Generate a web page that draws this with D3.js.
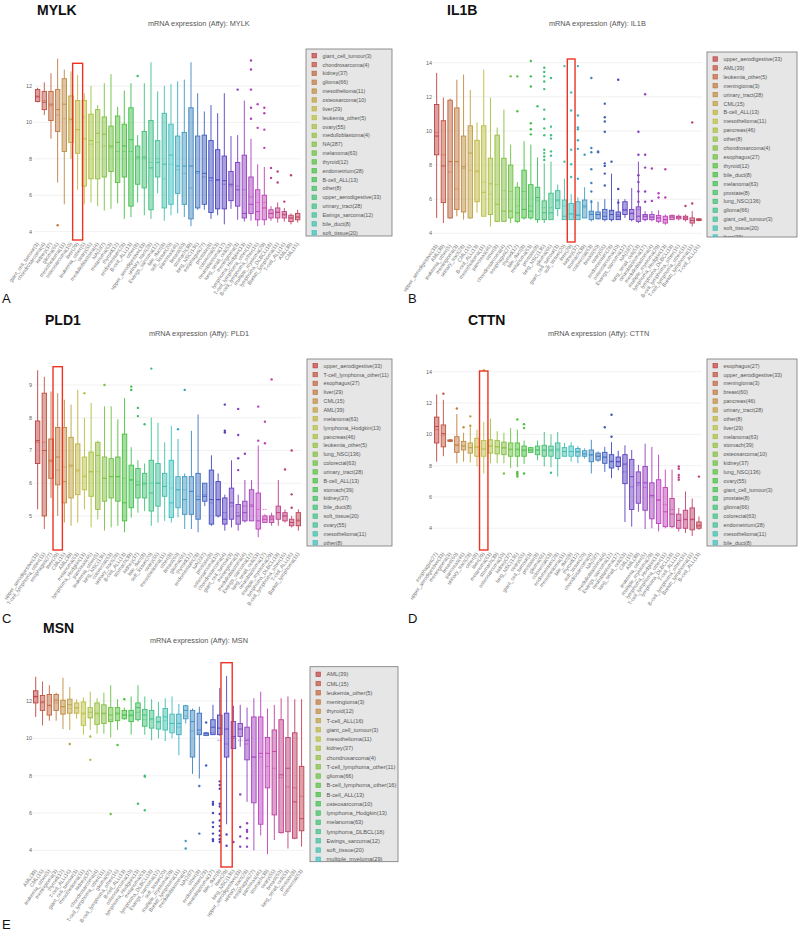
<!DOCTYPE html>
<html><head><meta charset="utf-8">
<script src="https://cdn.jsdelivr.net/npm/d3@7"></script>
<style>body{margin:0;background:#fff} svg{display:block}</style>
</head><body>
<svg id="fig" width="800" height="937"></svg>
<script>
// ---------------- DATA ----------------
// rows: [lowWhisker, q1, median, q3, highWhisker, mean]
const mylkCategories = ["giant_cell_tumour(3)","chondrosarcoma(4)","kidney(37)","glioma(66)","mesothelioma(11)","osteosarcoma(10)","liver(29)","leukemia_other(5)","ovary(55)","medulloblastoma(4)","NA(287)","melanoma(63)","thyroid(12)","endometrium(28)","B-cell_ALL(13)","other(8)","upper_aerodigestive(33)","urinary_tract(28)","Ewings_sarcoma(12)","bile_duct(8)","soft_tissue(20)","pancreas(46)","breast(60)","stomach(39)","lung_NSC(136)","esophagus(27)","prostate(8)","colorectal(63)","neuroblastoma(17)","lung_small_cell(53)","meningioma(3)","lymphoma_Hodgkin(13)","T-cell_lymphoma_other(11)","B-cell_lymphoma_other(16)","multiple_myeloma(29)","lymphoma_DLBCL(18)","Burkitt_lymphoma(11)","T-cell_ALL(16)","AML(39)","CML(15)"];
const mylkStats = [[11.1,11.15,11.4,11.8,11.9,11.45],[10.4,10.7,11.1,11.7,12.2,11.2],[9.1,10.1,11.0,11.7,12.7,10.9],[6.7,9.5,10.7,11.8,13.5,10.4],[5.5,8.4,11.0,12.4,12.9,10.2],[8.0,8.9,10.15,11.45,12.8,10.2],[6.3,8.3,9.6,11.2,12.6,9.6],[5.5,6.5,9.1,11.2,11.6,10.3],[5.6,6.9,9.0,10.45,12.0,8.8],[5.4,6.9,9.4,10.7,10.95,8.9],[5.15,7.0,9.35,10.3,12.15,8.7],[5.25,7.3,8.7,9.8,12.65,8.6],[5.55,6.7,8.9,10.35,10.85,8.4],[4.7,7.0,8.7,9.9,11.75,8.4],[4.8,5.4,9.05,10.8,12.15,8.4],[5.6,6.6,8.1,8.7,9.3,8.0],[4.9,6.4,8.1,9.5,12.15,8.0],[4.7,5.2,7.5,10.1,13.3,7.8],[6.1,7.0,7.8,9.0,11.7,8.0],[4.6,5.3,7.7,10.5,12.0,6.9],[4.9,5.5,8.2,9.9,12.1,7.7],[5.0,6.1,7.6,9.25,12.25,7.4],[4.8,5.5,7.6,9.45,12.35,7.2],[4.3,4.7,7.6,10.8,13.3,6.4],[5.2,5.3,7.3,9.25,11.6,7.2],[5.2,5.5,7.2,9.3,10.6,7.0],[4.7,5.05,6.95,9.0,10.95,6.8],[4.9,5.25,6.85,8.5,10.5,6.8],[4.4,5.25,6.8,8.15,11.6,6.6],[5.25,5.7,6.6,7.3,9.25,6.5],[4.65,5.4,6.3,7.8,9.3,6.5],[4.55,4.75,5.0,8.2,11.2,6.3],[4.6,5.0,5.5,7.0,9.1,5.9],[4.3,4.65,5.1,6.3,7.7,5.6],[4.35,4.65,5.3,6.0,7.55,5.6],[4.6,4.75,5.0,5.2,5.4,5.0],[4.5,4.75,5.05,5.3,5.6,5.1],[4.55,4.75,4.95,5.1,5.3,4.9],[4.4,4.55,4.75,4.9,5.0,4.75],[4.5,4.65,4.8,5.0,5.2,4.8]];
const mylkOutliers = [[3,4.35],[15,12.55],[30,11.8],[32,13.4],[32,12.9],[32,11.8],[32,10.8],[32,10.2],[33,11.0],[33,9.7],[34,10.8],[34,10.5],[34,9.6],[34,8.6],[35,7.5],[35,6.95],[36,7.3],[36,6.7],[37,5.65],[38,7.1]];
const mylkTicks = [4,6,8,10,12];

const il1bCategories = ["upper_aerodigestive(33)","AML(39)","leukemia_other(5)","meningioma(3)","urinary_tract(28)","CML(15)","B-cell_ALL(13)","mesothelioma(11)","pancreas(46)","other(8)","chondrosarcoma(4)","esophagus(27)","thyroid(12)","bile_duct(8)","melanoma(63)","prostate(8)","lung_NSC(136)","glioma(66)","giant_cell_tumour(3)","soft_tissue(20)","liver(29)","kidney(37)","stomach(39)","colorectal(63)","breast(60)","ovary(55)","endometrium(28)","osteosarcoma(10)","Ewings_sarcoma(12)","NA(287)","lung_small_cell(53)","neuroblastoma(17)","medulloblastoma(4)","multiple_myeloma(29)","lymphoma_Hodgkin(13)","lymphoma_DLBCL(18)","B-cell_lymphoma_other(16)","T-cell_lymphoma_other(11)","Burkitt_lymphoma(11)","T-cell_ALL(16)"];
const il1bStats = [[4.9,8.6,9.7,11.55,13.4,9.9],[4.6,5.8,7.95,10.6,11.95,8.6],[4.85,4.9,8.2,11.8,11.9,7.6],[5.0,5.4,8.2,11.35,13.0,6.6],[4.8,5.25,7.9,9.7,13.3,7.8],[4.85,4.9,8.7,10.3,12.4,7.7],[5.2,5.85,7.65,9.45,10.5,7.6],[5.0,5.0,6.4,10.3,13.6,7.0],[4.4,5.1,6.9,8.4,11.95,6.3],[4.65,4.7,5.7,9.75,10.2,6.85],[4.7,4.7,5.3,8.4,11.25,6.5],[4.6,4.9,5.3,8.0,9.2,6.45],[4.6,4.7,5.2,6.7,7.0,5.6],[4.8,4.9,5.4,7.7,9.4,6.45],[4.8,4.9,5.3,6.85,9.2,5.6],[4.6,4.8,6.1,6.7,8.45,5.9],[4.6,4.8,5.2,5.9,8.1,5.5],[4.8,4.8,5.2,6.35,8.2,5.5],[5.0,5.45,5.95,6.5,6.85,5.9],[4.8,4.8,5.0,5.95,7.2,5.6],[4.8,4.8,5.15,5.75,6.3,5.1],[4.8,4.8,5.05,5.85,6.1,5.1],[4.9,4.9,5.6,5.95,6.7,5.5],[4.7,4.8,5.1,5.3,5.95,5.2],[4.8,4.85,5.1,5.25,5.85,5.1],[4.7,4.8,5.0,5.4,6.0,5.2],[4.7,4.8,5.1,5.35,7.5,5.3],[4.8,4.8,5.0,5.25,6.0,5.1],[4.9,5.1,5.35,5.85,6.0,5.4],[4.7,4.8,5.15,5.4,6.65,5.2],[4.6,4.7,5.0,5.55,8.2,5.4],[4.7,4.8,5.0,5.1,5.3,5.0],[4.7,4.8,4.95,5.1,5.3,4.95],[4.6,4.7,4.9,5.05,5.35,4.9],[4.5,4.6,4.8,5.0,5.1,4.8],[4.8,4.8,4.95,5.05,5.1,4.95],[4.75,4.85,4.95,5.0,5.1,4.95],[4.7,4.8,4.9,5.0,5.1,4.9],[4.4,4.6,4.75,4.9,5.3,4.75],[4.7,4.75,4.8,4.85,4.9,4.8]];
const il1bOutliers = [[11,13.2],[12,13.2],[12,11.15],[14,14.1],[14,13.2],[14,12.6],[14,10.45],[14,10.1],[14,9.8],[15,11.45],[16,13.7],[16,13.45],[16,13.2],[16,12.9],[16,12.45],[16,11.25],[16,10.7],[16,10.15],[16,9.75],[16,8.9],[16,8.7],[16,8.5],[16,8.3],[17,13.1],[17,10.25],[17,9.75],[17,9.55],[17,8.8],[17,8.55],[19,13.8],[19,8.2],[20,12.25],[20,11.2],[20,8.9],[20,8.05],[20,7.3],[21,13.8],[21,10.9],[21,10.2],[21,10.1],[21,9.45],[21,8.95],[21,7.2],[22,8.6],[23,13.1],[23,9.0],[23,8.75],[23,7.75],[23,6.95],[23,6.45],[23,5.85],[24,8.8],[24,8.75],[25,11.6],[25,10.8],[25,10.55],[25,9.95],[25,8.1],[25,7.95],[25,7.5],[25,6.8],[26,8.2],[27,13.0],[27,6.6],[27,5.8],[30,9.95],[30,8.6],[30,7.4],[30,7.0],[30,6.45],[30,5.85],[31,12.15],[31,8.6],[31,7.85],[31,6.45],[31,5.85],[32,7.8],[32,5.9],[33,6.35],[33,6.1],[34,7.75],[34,6.1],[37,5.6],[38,10.5],[38,5.75]];
const il1bTicks = [4,6,8,10,12,14];

const pld1Categories = ["upper_aerodigestive(33)","T-cell_lymphoma_other(11)","esophagus(27)","liver(29)","CML(15)","AML(39)","melanoma(63)","lymphoma_Hodgkin(13)","pancreas(46)","leukemia_other(5)","lung_NSC(136)","colorectal(63)","urinary_tract(28)","B-cell_ALL(13)","stomach(39)","kidney(37)","bile_duct(8)","soft_tissue(20)","ovary(55)","mesothelioma(11)","other(8)","breast(60)","glioma(66)","thyroid(12)","endometrium(28)","NA(287)","prostate(8)","osteosarcoma(10)","chondrosarcoma(4)","giant_cell_tumour(3)","meningioma(3)","medulloblastoma(4)","Ewings_sarcoma(12)","lung_small_cell(53)","neuroblastoma(17)","multiple_myeloma(29)","lymphoma_DLBCL(18)","B-cell_lymphoma_other(16)","T-cell_ALL(16)","Burkitt_lymphoma(11)"];
const pld1Stats = [[5.2,6.6,7.3,7.9,9.45,7.25],[4.6,5.0,7.0,8.75,9.25,7.25],[5.55,6.15,6.7,7.35,8.8,6.65],[5.0,5.95,6.8,7.7,8.75,6.4],[4.8,5.4,6.05,7.7,8.55,6.5],[4.7,5.55,6.55,7.4,8.4,6.5],[4.8,5.65,6.4,7.2,8.85,6.35],[5.2,5.8,6.2,6.8,8.0,6.25],[4.65,5.6,6.35,6.95,8.45,6.35],[4.9,5.2,6.85,7.25,7.3,6.35],[4.55,5.45,6.15,6.8,8.35,6.15],[4.65,5.55,6.2,6.75,8.35,6.2],[4.7,5.45,6.2,6.8,7.95,6.2],[4.5,4.85,5.4,7.5,8.6,6.15],[4.95,5.25,6.1,6.55,7.1,6.1],[5.1,5.55,5.95,6.45,6.7,6.05],[5.15,5.55,6.0,6.3,6.6,5.95],[4.7,5.15,5.7,6.7,8.0,6.0],[4.8,5.3,6.0,6.6,7.85,6.0],[4.85,5.6,5.9,6.3,7.25,5.9],[4.8,4.95,5.4,6.7,7.75,5.85],[4.95,5.25,5.8,6.2,7.35,5.8],[4.6,5.05,5.5,6.2,6.3,5.8],[4.6,5.05,5.75,6.2,7.6,5.75],[4.5,4.9,5.5,6.3,8.1,5.6],[5.3,5.45,5.6,6.0,6.0,5.65],[4.7,4.75,5.5,6.4,6.85,5.4],[4.95,5.0,5.5,6.05,6.3,5.5],[4.55,4.75,4.9,5.55,5.65,5.1],[4.65,4.9,5.4,5.85,6.7,5.3],[4.55,4.75,5.0,5.35,5.65,5.1],[4.8,4.85,5.1,5.45,6.1,5.3],[4.85,4.85,5.3,5.8,6.1,5.35],[4.35,4.6,4.85,5.7,7.15,5.2],[4.8,4.8,4.9,5.0,5.05,5.2],[4.7,4.8,4.9,5.0,5.1,4.95],[4.7,4.9,5.1,5.3,6.1,5.1],[4.8,4.85,5.0,5.1,5.2,5.0],[4.65,4.7,4.8,4.9,5.0,4.8],[4.55,4.7,4.85,5.1,5.2,4.9]];
const pld1Outliers = [[7,8.75],[10,9.0],[14,8.95],[14,8.85],[15,8.3],[15,8.05],[16,7.8],[17,9.5],[21,7.65],[22,8.85],[28,8.4],[28,7.6],[28,7.55],[30,8.27],[30,7.47],[30,6.76],[30,6.4],[31,6.9],[33,8.34],[33,7.3],[34,7.88],[34,7.22],[35,9.17],[37,6.42],[38,7.0],[38,5.66],[38,5.25]];
const pld1Ticks = [5,6,7,8,9];

const cttnCategories = ["esophagus(27)","upper_aerodigestive(33)","meningioma(3)","breast(60)","pancreas(46)","urinary_tract(28)","other(8)","liver(29)","melanoma(63)","stomach(39)","osteosarcoma(10)","kidney(37)","lung_NSC(136)","ovary(55)","giant_cell_tumour(3)","prostate(8)","glioma(66)","colorectal(63)","endometrium(28)","mesothelioma(11)","bile_duct(8)","thyroid(12)","soft_tissue(20)","chondrosarcoma(4)","NA(287)","medulloblastoma(4)","Ewings_sarcoma(12)","neuroblastoma(17)","lung_small_cell(53)","CML(15)","AML(39)","leukemia_other(5)","multiple_myeloma(29)","lymphoma_Hodgkin(13)","T-cell_lymphoma_other(11)","lymphoma_DLBCL(18)","T-cell_ALL(16)","B-cell_lymphoma_other(16)","Burkitt_lymphoma(11)","B-cell_ALL(13)"];
const cttnStats = [[8.25,9.45,10.5,11.1,12.55,10.3],[8.6,9.2,10.05,10.6,12.2,9.95],[9.5,9.55,9.6,9.65,9.7,9.6],[8.15,8.85,9.3,9.85,11.3,9.35],[8.25,9.0,9.25,9.55,10.1,9.25],[8.2,8.8,9.15,9.45,10.5,9.15],[7.95,8.6,9.2,9.75,10.3,9.15],[7.5,8.6,9.05,9.6,10.8,9.1],[8.15,8.8,9.25,9.65,11.0,9.25],[8.15,8.75,9.2,9.6,10.2,9.2],[8.15,8.7,9.15,9.5,10.1,9.1],[7.85,8.6,9.05,9.45,10.4,9.0],[7.9,8.6,9.05,9.45,10.3,9.0],[8.1,8.6,9.0,9.25,9.6,8.95],[8.8,8.85,9.0,9.15,9.2,9.0],[8.35,8.7,9.0,9.25,9.6,9.0],[7.95,8.6,9.0,9.3,10.15,8.95],[7.9,8.6,9.0,9.25,10.0,8.95],[7.3,8.45,9.05,9.45,10.15,8.95],[8.6,8.6,8.9,9.15,9.45,8.9],[8.25,8.6,8.9,9.25,9.5,8.9],[8.15,8.6,8.9,9.1,9.25,8.85],[8.45,8.6,8.75,8.95,9.1,8.75],[7.5,8.25,8.7,9.0,9.65,8.65],[8.25,8.35,8.6,8.8,8.9,8.6],[7.6,8.15,8.55,8.85,9.2,8.5],[7.2,7.85,8.25,8.7,9.5,8.3],[7.7,7.95,8.25,8.55,8.95,8.25],[4.4,6.85,8.1,8.7,9.3,7.6],[4.1,5.2,7.3,8.4,9.0,6.65],[5.05,5.6,6.9,7.6,8.05,6.75],[3.95,5.15,6.9,7.95,9.4,6.6],[4.0,4.6,6.1,6.9,9.2,6.0],[3.8,4.3,5.8,7.1,8.7,5.8],[4.0,4.1,5.05,6.6,7.75,5.5],[4.0,4.1,4.9,5.9,7.75,5.2],[3.8,4.0,4.5,4.9,5.3,4.5],[3.7,4.0,4.55,5.15,6.35,4.6],[3.5,3.9,4.55,5.3,5.9,4.6],[3.9,4.0,4.15,4.4,4.75,4.2]];
const cttnOutliers = [[1,12.6],[3,11.65],[4,10.45],[5,11.15],[5,10.55],[7,14.1],[10,7.5],[12,10.95],[12,7.6],[12,7.5],[12,7.4],[12,7.3],[13,10.65],[13,10.4],[13,7.5],[17,7.55],[25,10.45],[26,11.25],[26,9.85],[36,7.95],[36,7.8],[36,7.4],[36,7.25],[36,7.1],[39,7.3]];
const cttnTicks = [4,6,8,10,12,14];

const msnCategories = ["AML(39)","CML(15)","leukemia_other(5)","meningioma(3)","thyroid(12)","T-cell_ALL(16)","giant_cell_tumour(3)","mesothelioma(11)","kidney(37)","chondrosarcoma(4)","T-cell_lymphoma_other(11)","glioma(66)","B-cell_lymphoma_other(16)","B-cell_ALL(13)","osteosarcoma(10)","lymphoma_Hodgkin(13)","melanoma(63)","lymphoma_DLBCL(18)","Ewings_sarcoma(12)","soft_tissue(20)","multiple_myeloma(29)","Burkitt_lymphoma(11)","medulloblastoma(4)","NA(287)","other(8)","endometrium(28)","neuroblastoma(17)","bile_duct(8)","liver(29)","lung_NSC(136)","upper_aerodigestive(33)","urinary_tract(28)","esophagus(27)","pancreas(46)","stomach(39)","ovary(55)","breast(60)","lung_small_cell(53)","prostate(8)","colorectal(63)"];
const msnStats = [[11.15,11.9,12.25,12.55,13.3,12.2],[10.7,11.5,11.95,12.3,13.05,11.9],[10.95,11.25,11.75,12.35,12.85,11.8],[10.95,11.5,12.05,12.35,12.45,11.9],[10.5,11.3,11.7,12.05,13.25,11.7],[10.45,11.35,11.8,12.1,12.75,11.6],[11.05,11.35,11.65,11.9,12.1,11.6],[10.2,10.7,11.35,11.95,12.2,11.3],[10.45,11.1,11.4,11.65,12.5,11.1],[10.25,10.75,11.35,11.9,12.15,11.3],[10.25,10.8,11.35,11.8,12.45,11.3],[10.05,10.9,11.25,11.65,12.85,11.0],[10.45,10.95,11.35,11.65,12.1,11.3],[11.0,11.05,11.25,11.5,11.65,11.25],[10.2,10.9,11.25,11.5,12.25,11.2],[10.9,11.0,11.65,11.9,12.85,11.4],[10.2,10.65,11.25,11.55,12.25,11.0],[9.9,10.55,11.05,11.5,12.1,11.0],[10.0,10.5,10.9,11.15,11.95,10.85],[9.85,10.45,11.15,11.6,12.15,10.95],[10.0,10.3,10.8,11.3,12.25,10.8],[9.1,10.2,10.8,11.3,11.85,10.6],[10.8,11.05,11.5,11.75,11.8,11.2],[8.1,9.0,10.9,11.5,11.6,10.4],[7.85,10.2,10.45,11.35,11.7,10.3],[10.15,10.15,10.25,10.3,10.35,10.25],[10.2,10.2,10.6,11.0,11.8,10.3],[10.15,10.2,10.55,11.25,12.7,9.9],[5.4,9.0,10.5,11.35,13.35,9.7],[9.45,9.45,10.1,10.9,11.75,10.0],[9.55,10.1,10.5,10.8,11.8,9.9],[6.6,8.85,9.9,10.6,11.65,9.7],[4.0,6.55,9.0,11.15,12.15,9.0],[4.8,5.4,9.2,11.15,12.5,9.0],[3.8,7.35,9.2,10.05,11.6,8.5],[4.55,5.9,9.3,10.45,11.8,8.4],[4.9,4.95,8.05,11.0,12.15,7.9],[4.1,5.0,8.4,10.05,12.25,7.4],[4.6,4.65,6.6,10.3,12.1,7.35],[4.2,5.05,5.7,8.5,12.1,6.9]];
const msnOutliers = [[5,9.7],[8,10.1],[8,8.85],[11,5.95],[12,9.65],[13,12.1],[15,6.5],[16,8.0],[16,7.95],[16,6.15],[22,4.5],[22,4.1],[24,7.45],[24,4.9],[25,10.85],[25,8.55],[26,6.6],[26,6.5],[26,6.45],[26,6.0],[26,5.5],[26,5.25],[26,4.9],[26,4.6],[26,4.5],[27,7.7],[27,7.5],[27,7.3],[27,6.5],[27,6.35],[27,5.95],[27,5.6],[27,5.3],[27,5.05],[27,4.8],[27,4.6],[27,4.45],[28,4.85],[28,4.25],[29,4.45],[30,7.0],[30,5.25],[30,4.75],[30,4.2],[31,5.45],[31,5.1],[31,5.0],[31,4.65],[31,4.2]];
const msnTicks = [4,6,8,10,12];

// ---------------- LAYOUT ----------------
const panels = [
  {gene:"MYLK", cats:mylkCategories, stats:mylkStats, outs:mylkOutliers, ticks:mylkTicks,
   title:[37,15], sub:[148,26], xr:[34.3,301], yr:[240,55], yd:[3.54,13.7], tickX:32,
   leg:{x:306,y:49,w:86,h:187,first:55.7,step:8.85,fs:5.4}, hl:{w:1.5,top:63.3}, lab:["A",2,303]},
  {gene:"IL1B", cats:il1bCategories, stats:il1bStats, outs:il1bOutliers, ticks:il1bTicks,
   title:[447,15], sub:[549,26], xr:[433.3,702.3], yr:[242,55], yd:[3.49,14.45], tickX:432,
   leg:{x:707,y:52,w:90,h:185,first:59,step:8.9,fs:5.4}, hl:{w:1.15,top:59}, lab:["B",408,303]},
  {gene:"PLD1", cats:pld1Categories, stats:pld1Stats, outs:pld1Outliers, ticks:pld1Ticks,
   title:[45,325], sub:[149,336], xr:[34.3,301.7], yr:[550,365], yd:[3.96,9.61], tickX:32,
   leg:{x:307,y:359,w:85,h:187,first:365.7,step:8.85,fs:5.4}, hl:{w:1.4,top:366.7}, lab:["C",2,623]},
  {gene:"CTTN", cats:cttnCategories, stats:cttnStats, outs:cttnOutliers, ticks:cttnTicks,
   title:[468,325], sub:[548,336], xr:[433.3,702.3], yr:[550,365], yd:[2.61,14.43], tickX:432,
   leg:{x:707,y:359,w:90,h:187,first:365.7,step:8.85,fs:5.4}, hl:{w:1.25,top:371}, lab:["D",408,623]},
  {gene:"MSN", cats:msnCategories, stats:msnStats, outs:msnOutliers, ticks:msnTicks,
   title:[43,633], sub:[150,643], xr:[32.3,305], yr:[867,660], yd:[3.11,14.2], tickX:32,
   leg:{x:310,y:666.7,w:88,h:195,first:674.3,step:9.25,fs:5.7}, hl:{w:1.65,top:662.7}, lab:["E",2,929]}
];

const svg = d3.select("#fig");
const FONT = "'Liberation Sans', Arial, sans-serif";

panels.forEach((p, pi) => {
  const g = svg.append("g");
  const n = p.cats.length;
  const color = i => d3.hsl(i * 360 / n, 0.5, 0.5);
  const x = d3.scaleBand().domain(p.cats).range(p.xr).padding(0);
  const y = d3.scaleLinear().domain(p.yd).range(p.yr);
  const bw = x.bandwidth() * 0.66;
  const cx = c => x(c) + x.bandwidth() / 2;

  // titles
  g.append("text").attr("x", p.title[0]).attr("y", p.title[1]).text(p.gene)
    .attr("font-family", FONT).attr("font-weight", "bold").attr("font-size", 14).attr("fill", "#111");
  g.append("text").attr("x", p.sub[0]).attr("y", p.sub[1]).text("mRNA expression (Affy): " + p.gene)
    .attr("font-family", FONT).attr("font-size", 7.3).attr("fill", "#555");

  // grid + y tick labels
  g.selectAll(".grid").data(p.ticks).join("line")
    .attr("x1", p.xr[0]).attr("x2", p.xr[1]).attr("y1", d => y(d)).attr("y2", d => y(d))
    .attr("stroke", "#eeeeee").attr("stroke-width", 0.8);
  g.selectAll(".yt").data(p.ticks).join("text")
    .attr("x", p.tickX).attr("y", d => y(d) + 2).attr("text-anchor", "end")
    .attr("font-family", FONT).attr("font-size", 5.5).attr("fill", "#666").text(d => d);

  // boxes
  p.cats.forEach((c, i) => {
    const s = p.stats[i];
    const col = color(i);
    const xc = cx(c);
    const bg = g.append("g");
    bg.append("line").attr("x1", xc).attr("x2", xc).attr("y1", y(s[0])).attr("y2", y(s[1]))
      .attr("stroke", col).attr("stroke-width", 0.9);
    bg.append("line").attr("x1", xc).attr("x2", xc).attr("y1", y(s[3])).attr("y2", y(s[4]))
      .attr("stroke", col).attr("stroke-width", 0.9);
    bg.append("rect").attr("x", xc - bw / 2).attr("width", bw)
      .attr("y", y(s[3])).attr("height", Math.max(0.8, y(s[1]) - y(s[3])))
      .attr("fill", col.copy({opacity: 0.5})).attr("stroke", col).attr("stroke-width", 0.9);
    bg.append("line").attr("x1", xc - bw / 2).attr("x2", xc + bw / 2).attr("y1", y(s[2])).attr("y2", y(s[2]))
      .attr("stroke", col).attr("stroke-width", 0.9);
    bg.append("line").attr("x1", xc - bw / 2).attr("x2", xc + bw / 2).attr("y1", y(s[5])).attr("y2", y(s[5]))
      .attr("stroke", col).attr("stroke-width", 0.7).attr("stroke-dasharray", "1.2,0.8");
  });
  // outliers
  g.selectAll(".out").data(p.outs).join("circle")
    .attr("cx", d => cx(p.cats[d[0]])).attr("cy", d => y(d[1])).attr("r", 1.2)
    .attr("fill", d => color(d[0]));

  // x tick labels
  const ly = p.yr[0] + 3;
  g.selectAll(".xt").data(p.cats).join("text")
    .attr("x", d => cx(d)).attr("y", ly)
    .attr("transform", d => `rotate(-55,${cx(d)},${ly})`)
    .attr("text-anchor", "end").attr("dy", "0.3em")
    .attr("font-family", FONT).attr("font-size", 5.2).attr("fill", "#777").text(d => d);

  // highlight rectangle around liver
  const li = p.cats.findIndex(c => c.startsWith("liver"));
  const hw = x.bandwidth() * p.hl.w;
  g.append("rect").attr("x", cx(p.cats[li]) - hw / 2).attr("width", hw)
    .attr("y", p.hl.top).attr("height", p.yr[0] - p.hl.top)
    .attr("fill", "none").attr("stroke", "#ee3322").attr("stroke-width", 1.4);

  // legend
  const L = p.leg;
  const clipId = "clip" + pi;
  svg.append("clipPath").attr("id", clipId).append("rect")
    .attr("x", L.x).attr("y", L.y).attr("width", L.w).attr("height", L.h);
  g.append("rect").attr("x", L.x).attr("y", L.y).attr("width", L.w).attr("height", L.h)
    .attr("fill", "#e6e6e6").attr("stroke", "#777").attr("stroke-width", 0.8);
  const lg = g.append("g").attr("clip-path", `url(#${clipId})`);
  p.cats.forEach((c, i) => {
    const yy = L.first + i * L.step;
    if (yy > L.y + L.h + 6) return;
    const col = color(i);
    lg.append("rect").attr("x", L.x + 6).attr("y", yy - 2.2).attr("width", 4.4).attr("height", 4.4)
      .attr("fill", col.copy({opacity: 0.7})).attr("stroke", col).attr("stroke-width", 0.7);
    lg.append("text").attr("x", L.x + 16.5).attr("y", yy + 2).text(c)
      .attr("font-family", FONT).attr("font-size", L.fs).attr("fill", "#555");
  });

  // panel letter
  svg.append("text").attr("x", p.lab[1]).attr("y", p.lab[2]).text(p.lab[0])
    .attr("font-family", FONT).attr("font-size", 13).attr("fill", "#111");
});
</script>
</body></html>
